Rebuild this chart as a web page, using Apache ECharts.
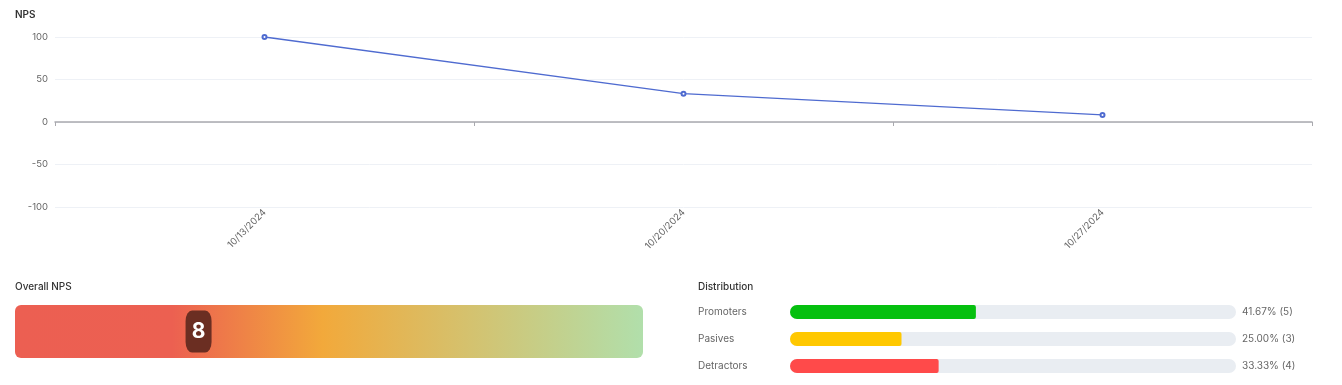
<!DOCTYPE html>
<html><head><meta charset="utf-8">
<script src="https://cdn.jsdelivr.net/npm/echarts@6/dist/echarts.min.js"></script>
<style>html,body{margin:0;padding:0;background:#fff}#c{width:1342px;height:385px}</style>
</head><body><div id="c"></div>
<script>
const dates = ['10/13/2024', '10/20/2024', '10/27/2024'];
const npsValues = [100, 33.33, 8.33];
const yTicks = [-100, -50, 0, 50, 100];
const overallNps = 8;
const distCategories = ['Promoters', 'Pasives', 'Detractors'];
const distPercents = [41.67, 25.00, 33.33];
const distCounts = [5, 3, 4];
const distColors = ['#05c00f', '#ffc800', '#ff4a4a'];

const FONT = 'Inter, "Noto Sans", sans-serif';
const chart = echarts.init(document.getElementById('c'), null, {renderer: 'canvas'});
chart.setOption({
  animation: false,
  textStyle: {fontFamily: FONT},
  title: [
    {text: 'NPS', left: 15, top: 10, padding: 0, textStyle: {fontSize: 10, fontWeight: 600, color: '#333', fontFamily: FONT}},
    {text: 'Overall NPS', left: 15, top: 282, padding: 0, textStyle: {fontSize: 10, fontWeight: 500, color: '#333', fontFamily: FONT}},
    {text: 'Distribution', left: 698, top: 282, padding: 0, textStyle: {fontSize: 10, fontWeight: 500, color: '#333', fontFamily: FONT}}
  ],
  graphic: [{
    type: 'rect', left: 15, top: 305, z: 0,
    shape: {width: 628, height: 53, r: 6},
    style: {fill: new echarts.graphic.LinearGradient(0, 0, 1, 0, [
      {offset: 0, color: '#ec5f52'}, {offset: 0.25, color: '#ec6051'},
      {offset: 0.49, color: '#f2a93b'}, {offset: 1, color: '#b1dfab'}])}
  }],
  grid: [
    {left: 55, right: 30, top: 37, height: 170},
    {left: 15, top: 305, width: 628, height: 53},
    {left: 790, top: 298.5, width: 446, height: 81}
  ],
  xAxis: [
    {type: 'category', gridIndex: 0, data: dates,
      axisLine: {onZero: true, lineStyle: {color: '#a9a9ae', width: 1.5}},
      axisTick: {show: true, length: 4, lineStyle: {color: '#a9a9ae'}},
      axisLabel: {rotate: 45, margin: 4, fontSize: 9.5, color: '#666', fontFamily: FONT}},
    {type: 'value', gridIndex: 1, min: -30, max: 100, show: false},
    {type: 'value', gridIndex: 2, min: 0, max: 100, show: false}
  ],
  yAxis: [
    {type: 'value', gridIndex: 0, min: yTicks[0], max: yTicks[yTicks.length - 1], interval: 50,
      axisLine: {show: false}, axisTick: {show: false},
      splitLine: {lineStyle: {color: '#eef1f6'}},
      axisLabel: {fontSize: 9.5, color: '#666', margin: 7, fontFamily: FONT}},
    {type: 'category', gridIndex: 1, data: ['nps'], show: false},
    {type: 'category', gridIndex: 2, data: distCategories, inverse: true,
      axisLine: {show: false}, axisTick: {show: false},
      axisLabel: {align: 'left', margin: 92, fontSize: 10, color: '#666', fontFamily: FONT}},
    {type: 'category', gridIndex: 2, position: 'right', data: distCategories.map((c, i) => distPercents[i].toFixed(2) + '% (' + distCounts[i] + ')'), inverse: true,
      axisLine: {show: false}, axisTick: {show: false},
      axisLabel: {align: 'left', margin: 6, fontSize: 10, color: '#666', fontFamily: FONT}}
  ],
  series: [
    {type: 'line', xAxisIndex: 0, yAxisIndex: 0, data: npsValues,
      symbol: 'emptyCircle', symbolSize: 4,
      lineStyle: {color: '#4f6bd0', width: 1.3}, itemStyle: {color: '#4f6bd0'}},
    {type: 'scatter', xAxisIndex: 1, yAxisIndex: 1, z: 5,
      data: [[overallNps, 'nps']], symbol: 'roundRect', symbolSize: [26, 42],
      itemStyle: {color: '#6b2e22', opacity: 1},
      label: {show: true, position: 'inside', formatter: '{@[0]}', color: '#fff', fontSize: 21, fontWeight: 'bold', fontFamily: FONT}},
    {type: 'bar', xAxisIndex: 2, yAxisIndex: 2, barWidth: 14,
      data: distPercents.map((v, i) => ({value: v, itemStyle: {color: distColors[i]}})),
      showBackground: true, backgroundStyle: {color: '#e9edf2', borderRadius: 7},
      itemStyle: {borderRadius: [7, 2, 2, 7]}}
  ]
});
</script></body></html>
